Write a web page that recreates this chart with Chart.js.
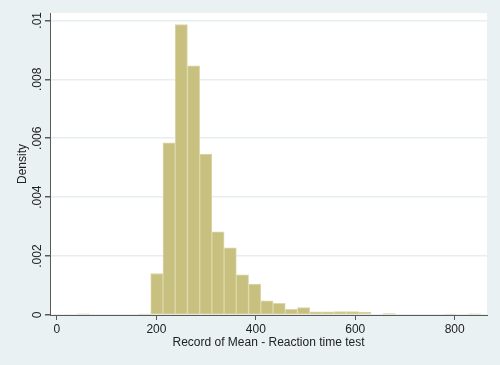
<!DOCTYPE html>
<html>
<head>
<meta charset="utf-8">
<script src="https://cdn.jsdelivr.net/npm/chart.js@4"></script>
<style>
  html, body { margin: 0; padding: 0; background: #eaf1f3; }
  #wrap { width: 500px; height: 365px; }
</style>
</head>
<body>
<div id="wrap"><canvas id="chart" width="500" height="365"></canvas></div>
<script>
// histogram bins (reaction time, ms) - centers and density
const binStart = 41;
const binWidth = 24.6;
const binCenters = [53.3, 77.9, 102.5, 127.1, 151.7, 176.3, 200.9, 225.5, 250.1, 274.7,
  299.3, 323.9, 348.5, 373.1, 397.7, 422.3, 446.9, 471.5, 496.1, 520.7, 545.3, 569.9,
  594.5, 619.1, 643.7, 668.3, 692.9, 717.5, 742.1, 766.7, 791.3, 815.9, 840.5];
const density = [0.00004, 0, 0, 0, 0, 0.00003, 0.00141, 0.00584, 0.00986, 0.00846,
  0.00546, 0.00282, 0.00228, 0.00136, 0.00105, 0.00048, 0.00040, 0.00019, 0.00025,
  0.00011, 0.00011, 0.00012, 0.00012, 0.00010, 0, 0.00005, 0, 0, 0, 0, 0.00003, 0, 0.00004];

const xTicks = [0, 200, 400, 600, 800];
const yTicks = [0, 0.002, 0.004, 0.006, 0.008, 0.01];
const yTickLabels = ["0", ".002", ".004", ".006", ".008", ".01"];

const axisColor = "#5a5a5a";
const gridColor = "#e6eef0";

// white plot region
const plotBg = {
  id: "plotBg",
  beforeDraw(chart) {
    const { ctx, chartArea: a } = chart;
    ctx.save();
    ctx.fillStyle = "#ffffff";
    ctx.fillRect(a.left, a.top, a.right - a.left, a.bottom - a.top);
    ctx.restore();
  }
};

new Chart(document.getElementById("chart"), {
  type: "bar",
  data: {
    datasets: [{
      data: binCenters.map((c, i) => ({ x: c, y: density[i] })),
      backgroundColor: "#c8c07f",
      borderColor: "#ddd7a9",
      borderWidth: 1,
      borderSkipped: false,
      barPercentage: 1,
      categoryPercentage: 1
    }]
  },
  options: {
    responsive: false,
    animation: false,
    layout: { padding: { top: 13, right: 13, left: 0, bottom: 0 } },
    plugins: { legend: { display: false }, tooltip: { enabled: false } },
    scales: {
      x: {
        type: "linear",
        offset: false,
        min: -14,
        max: 865,
        afterBuildTicks: s => { s.ticks = xTicks.map(v => ({ value: v })); },
        afterFit: s => { s.height = 50; },
        grid: { display: true, drawOnChartArea: false, offset: false, tickLength: 5, tickColor: axisColor },
        border: { color: axisColor, width: 1 },
        ticks: {
          color: "#222",
          font: { family: "Liberation Sans, Arial", size: 12 },
          padding: 2,
          maxRotation: 0
        },
        title: {
          display: true,
          text: "Record of Mean - Reaction time test",
          color: "#222",
          font: { family: "Liberation Sans, Arial", size: 12 },
          padding: { top: 0, bottom: 15 }
        }
      },
      y: {
        min: 0,
        max: 0.01025,
        afterBuildTicks: s => { s.ticks = yTicks.map(v => ({ value: v })); },
        afterFit: s => { s.width = 50; },
        grid: { color: gridColor, lineWidth: 1.5, tickLength: 5, tickColor: axisColor },
        border: { color: axisColor, width: 1 },
        ticks: {
          color: "#222",
          font: { family: "Liberation Sans, Arial", size: 12 },
          minRotation: 90,
          maxRotation: 90,
          crossAlign: "center",
          padding: -4,
          callback: (v) => {
            const i = yTicks.findIndex(t => Math.abs(t - v) < 1e-9);
            return i >= 0 ? yTickLabels[i] : "";
          }
        },
        title: {
          display: true,
          text: "Density",
          color: "#222",
          font: { family: "Liberation Sans, Arial", size: 12 },
          padding: { top: 15, bottom: 0 }
        }
      }
    }
  },
  plugins: [plotBg]
});
</script>
</body>
</html>
